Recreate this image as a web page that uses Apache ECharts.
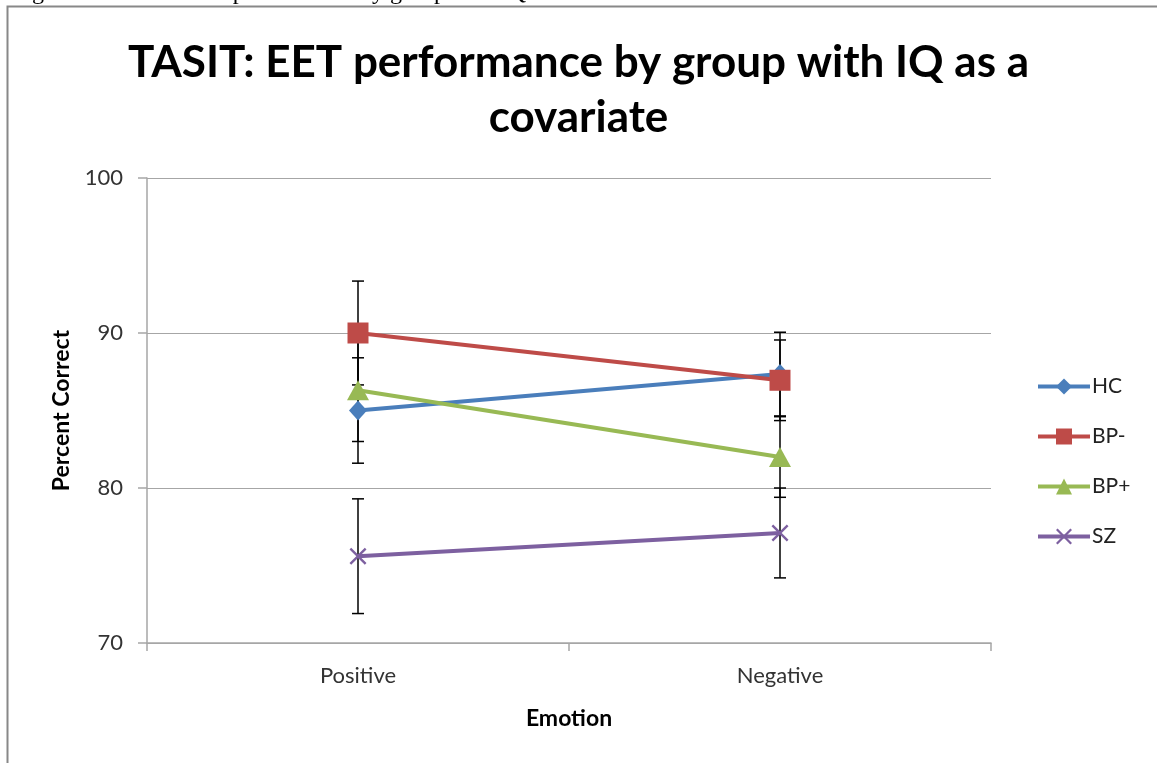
<!DOCTYPE html>
<html>
<head>
<meta charset="utf-8">
<script src="https://cdn.jsdelivr.net/npm/echarts@6/dist/echarts.min.js"></script>
<style>
  html, body { margin: 0; padding: 0; background: #fff; }
  #chart { width: 1157px; height: 763px; }
</style>
</head>
<body>
<div id="chart"></div>
<script>
// categories and tick labels
const categories = ['Positive', 'Negative']
const yTicks = [70, 80, 90, 100]

// group means (percent correct)
const hcMeans = [85.0, 87.35]
const bpMinusMeans = [90.0, 86.95]
const bpPlusMeans = [86.3, 82.0]
const szMeans = [75.6, 77.1]

// error bar half-widths
const hcErr = [3.4, 2.7]
const bpMinusErr = [3.35, 2.6]
const bpPlusErr = [3.3, 2.6]
const szErr = [3.7, 2.9]

const groups = [
  { name: 'HC', means: hcMeans, err: hcErr, color: '#4A7EBB', symbol: 'diamond', size: [18, 20] },
  { name: 'BP-', means: bpMinusMeans, err: bpMinusErr, color: '#BE4B48', symbol: 'rect', size: 21 },
  { name: 'BP+', means: bpPlusMeans, err: bpPlusErr, color: '#98B954', symbol: 'triangle', size: [22, 20] },
  {
    name: 'SZ', means: szMeans, err: szErr, color: '#7D60A0',
    symbol: 'path://M0,1L1,0L5,4L9,0L10,1L6,5L10,9L9,10L5,6L1,10L0,9L4,5Z', size: 17
  }
]

const chart = echarts.init(document.getElementById('chart'), null, { renderer: 'canvas' })

const fontFamily = 'Lato, sans-serif'
const series = []

groups.forEach(g => {
  series.push({
    name: g.name + ' error',
    type: 'custom',
    z: 1,
    silent: true,
    data: g.means.map((m, i) => [i, m - g.err[i], m + g.err[i]]),
    renderItem(params, api) {
      const top = api.coord([api.value(0), api.value(2)])
      const bot = api.coord([api.value(0), api.value(1)])
      const cap = 6
      const style = { stroke: '#000', lineWidth: 1.5 }
      return {
        type: 'group',
        children: [
          { type: 'line', shape: { x1: top[0], y1: top[1], x2: bot[0], y2: bot[1] }, style },
          { type: 'line', shape: { x1: top[0] - cap, y1: top[1], x2: top[0] + cap, y2: top[1] }, style },
          { type: 'line', shape: { x1: bot[0] - cap, y1: bot[1], x2: bot[0] + cap, y2: bot[1] }, style }
        ]
      }
    }
  })
})

groups.forEach(g => {
  series.push({
    name: g.name,
    type: 'line',
    z: 3,
    data: g.means,
    symbol: g.symbol,
    symbolSize: g.size,
    showAllSymbol: true,
    lineStyle: { color: g.color, width: 4 },
    itemStyle: { color: g.color, opacity: 1 },
    emphasis: { disabled: true }
  })
})

const options = {
  animation: false,
  title: {
    text: 'TASIT: EET performance by group with IQ as a\ncovariate',
    left: 'center',
    top: 30,
    textStyle: {
      fontFamily: fontFamily,
      fontWeight: 'bold',
      fontSize: 44,
      lineHeight: 55,
      color: '#000'
    }
  },
  legend: {
    data: groups.map(g => g.name),
    orient: 'vertical',
    left: 1031,
    top: 371,
    itemWidth: 52,
    itemHeight: 20,
    itemGap: 29,
    lineStyle: { width: 4 },
    textStyle: { fontFamily: fontFamily, fontSize: 21, color: '#222', padding: [0, 0, 0, -3] }
  },
  grid: {
    left: 147,
    right: 166,
    top: 178,
    bottom: 120,
    containLabel: false
  },
  xAxis: {
    type: 'category',
    data: categories,
    boundaryGap: true,
    name: 'Emotion',
    nameLocation: 'middle',
    nameGap: 64,
    nameTextStyle: { fontFamily: fontFamily, fontWeight: 'bold', fontSize: 23, color: '#000' },
    axisLine: { lineStyle: { color: '#A6A6A6', width: 1.5 } },
    axisTick: { show: true, length: 8, alignWithLabel: false, lineStyle: { color: '#A6A6A6', width: 1.5 } },
    axisLabel: { margin: 22, fontFamily: fontFamily, fontSize: 22, color: '#333' },
    splitLine: { show: false }
  },
  yAxis: {
    type: 'value',
    min: yTicks[0],
    max: yTicks[yTicks.length - 1],
    interval: 10,
    name: 'Percent Correct',
    nameLocation: 'middle',
    nameGap: 74,
    nameTextStyle: { fontFamily: fontFamily, fontWeight: 'bold', fontSize: 23, color: '#000' },
    axisLine: { show: true, lineStyle: { color: '#A6A6A6', width: 1.5 } },
    axisTick: { show: true, length: 9, lineStyle: { color: '#A6A6A6', width: 1.5 } },
    axisLabel: { margin: 24, fontFamily: fontFamily, fontSize: 22, color: '#333' },
    splitLine: { lineStyle: { color: '#A6A6A6', width: 1.2 } }
  },
  graphic: [
    {
      type: 'rect',
      silent: true,
      z: -1,
      shape: { x: 7.5, y: 6.5, width: 1300, height: 900 },
      style: { fill: 'none', stroke: '#888', lineWidth: 2 }
    },
    {
      type: 'text',
      silent: true,
      left: 12,
      top: -19,
      style: {
        text: 'Figure 3: TASIT: EET performance by group with IQ as a covariate',
        font: '24px "Liberation Serif", serif',
        fill: '#000'
      }
    }
  ],
  series: series
}

chart.setOption(options)
</script>
</body>
</html>
